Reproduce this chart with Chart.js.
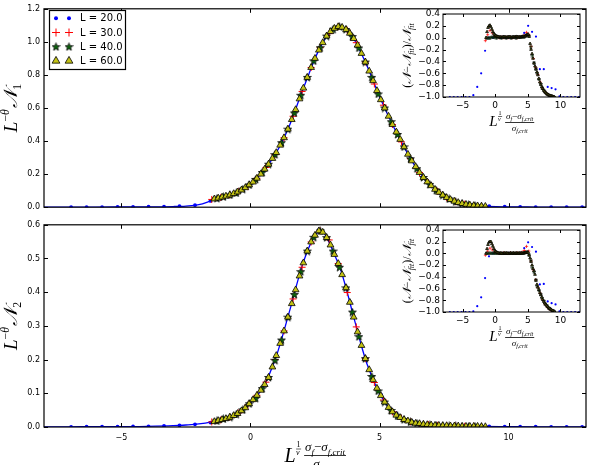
<!doctype html>
<html lang="en">
<head>
<meta charset="utf-8">
<title>scaling collapse - chartjs</title>
<script src="https://cdn.jsdelivr.net/npm/chart.js"></script>
<style>
    body{margin:0;background:#fff}
    #wrap{position:relative;width:591px;height:465px;overflow:hidden}
    #wrap canvas{position:absolute}
</style>
<script>
// ---- data ----
const xTicks = [-5, 0, 5, 10];
const y1Ticks = [0, 0.2, 0.4, 0.6, 0.8, 1.0, 1.2];
const y2Ticks = [0, 0.1, 0.2, 0.3, 0.4, 0.5, 0.6];
const resTicks = [-1.0, -0.8, -0.6, -0.4, -0.2, 0, 0.2, 0.4];
const seriesNames = ['L = 20.0', 'L = 30.0', 'L = 40.0', 'L = 60.0'];

// L = 20
const x20 = [-6.95,-6.35,-5.75,-5.15,-4.55,-3.95,-3.35,-2.75,-2.15,-1.55,
    -0.95,-0.35,0.25,0.85,1.45,2.05,2.65,3.25,3.85,4.45,
    5.05,5.65,6.25,6.85,7.45,8.05,8.65,9.25,9.85,10.45,
    11.05,11.65,12.25,12.85];
const n1_20 = [0.001,0.001,0.001,0.002,0.002,0.003,0.004,0.006,0.012,0.038,
    0.066,0.104,0.175,0.295,0.472,0.72,0.95,1.082,1.052,0.878,
    0.655,0.46,0.29,0.16,0.078,0.032,0.015,0.007,0.004,0.002,
    0.001,0.001,0.001,0.0005];
const n2_20 = [0.0005,0.001,0.001,0.001,0.002,0.002,0.003,0.005,0.008,0.013,
    0.025,0.047,0.094,0.178,0.33,0.49,0.585,0.515,0.372,0.205,
    0.097,0.04,0.017,0.008,0.005,0.003,0.002,0.002,0.001,0.001,
    0.001,0.0005,0.0005,0.0003];
const r1_20 = [-1.0,-1.0,-1.0,-1.0,-1.0,-1.0,-0.97,-0.83,-0.60,-0.22,
    0.0,0.0,0.01,0.0,0.01,0.0,0.01,0.0,0.01,0.08,
    0.2,0.1,0.02,-0.53,-0.53,-0.83,-0.85,-0.87,-0.99,-1.0,
    -1.0,-1.0,-1.0,-1.0];
const r2_20 = [-1.0,-1.0,-1.0,-1.0,-1.0,-1.0,-0.99,-0.90,-0.75,-0.42,
    -0.05,0.0,0.01,0.0,0.0,0.01,0.0,0.0,0.01,0.09,
    0.19,0.11,0.03,-0.53,-0.52,-0.82,-0.85,-0.87,-0.99,-1.0,
    -1.0,-1.0,-1.0,-1.0];

// L = 30
const x30 = [-1.5,-1.15,-0.8,-0.45,-0.1,0.25,0.6,0.95,1.3,1.65,
    2.0,2.35,2.7,3.05,3.4,3.75,4.1,4.45,4.8,5.15,
    5.5,5.85,6.2,6.55,6.9,7.25,7.6,7.95,8.3,8.65];
const n1_30 = [0.047,0.059,0.074,0.096,0.124,0.175,0.24,0.318,0.42,0.55,
    0.70,0.845,0.965,1.05,1.092,1.07,0.995,0.878,0.745,0.617,
    0.50,0.395,0.293,0.21,0.146,0.096,0.058,0.033,0.018,0.01];
const n2_30 = [0.015,0.021,0.029,0.042,0.065,0.094,0.133,0.20,0.285,0.38,
    0.474,0.549,0.582,0.555,0.485,0.399,0.297,0.203,0.132,0.080,
    0.045,0.026,0.015,0.010,0.007,0.005,0.004,0.003,0.002,0.002];
const r1_30 = [-0.05,0.05,0.12,0.08,0.03,0.01,0.0,0.01,0.0,0.01,
    0.0,0.01,0.0,0.01,0.0,0.01,0.02,0.04,0.09,0.05,
    -0.15,-0.35,-0.50,-0.62,-0.75,-0.85,-0.91,-0.95,-0.98,-0.99];
const r2_30 = [-0.03,0.04,0.09,0.06,0.02,0.01,0.0,0.0,0.01,0.0,
    0.0,0.01,0.0,0.0,0.01,0.0,0.02,0.05,0.12,0.04,
    -0.13,-0.28,-0.45,-0.58,-0.68,-0.79,-0.86,-0.91,-0.95,-0.98];

// L = 40
const x40 = [-1.3,-1.05,-0.8,-0.55,-0.3,-0.05,0.2,0.45,0.7,0.95,
    1.2,1.45,1.7,1.95,2.2,2.45,2.7,2.95,3.2,3.45,
    3.7,3.95,4.2,4.45,4.7,4.95,5.2,5.45,5.7,5.95,
    6.2,6.45,6.7,6.95,7.2,7.45,7.7,7.95,8.2,8.45,
    8.7,8.95];
const n1_40 = [0.053,0.063,0.074,0.086,0.109,0.135,0.168,0.21,0.26,0.318,
    0.39,0.472,0.57,0.677,0.785,0.885,0.965,1.035,1.076,1.092,
    1.075,1.032,0.963,0.878,0.785,0.685,0.60,0.517,0.44,0.365,
    0.293,0.233,0.18,0.138,0.102,0.073,0.05,0.033,0.022,0.015,
    0.01,0.006];
const n2_40 = [0.018,0.024,0.029,0.038,0.051,0.069,0.085,0.114,0.147,0.198,
    0.258,0.326,0.393,0.461,0.522,0.563,0.582,0.562,0.522,0.474,
    0.413,0.341,0.268,0.203,0.150,0.107,0.074,0.049,0.033,0.022,
    0.015,0.011,0.008,0.006,0.005,0.004,0.003,0.003,0.002,0.002,
    0.002,0.001];
const r1_40 = [0.0,0.0,0.0,0.01,0.005,0.01,0.0,0.01,0.005,0.0,
    0.01,0.005,0.0,0.01,0.005,0.0,0.01,0.005,0.0,0.01,
    0.005,0.01,0.015,0.02,0.03,0.05,0.03,-0.15,-0.30,-0.42,
    -0.52,-0.60,-0.70,-0.78,-0.84,-0.89,-0.92,-0.95,-0.965,-0.98,
    -0.99,-1.0];
const r2_40 = [0.0,0.0,0.005,0.0,0.005,0.0,0.0,0.005,0.0,0.0,
    0.005,0.0,0.0,0.005,0.0,0.0,0.005,0.0,0.0,0.005,
    0.0,0.0,0.01,0.01,0.02,0.02,-0.02,-0.12,-0.24,-0.31,
    -0.45,-0.56,-0.63,-0.70,-0.76,-0.81,-0.86,-0.89,-0.93,-0.955,
    -0.975,-0.99];

// L = 60
const x60 = [-1.4,-1.25,-1.1,-0.95,-0.8,-0.65,-0.5,-0.35,-0.2,-0.05,
    0.1,0.25,0.4,0.55,0.7,0.85,1.0,1.15,1.3,1.45,
    1.6,1.75,1.9,2.05,2.2,2.35,2.5,2.65,2.8,2.95,
    3.1,3.25,3.4,3.55,3.7,3.85,4.0,4.15,4.3,4.45,
    4.6,4.75,4.9,5.05,5.2,5.35,5.5,5.65,5.8,5.95,
    6.1,6.25,6.4,6.55,6.7,6.85,7.0,7.15,7.3,7.45,
    7.6,7.75,7.9,8.05,8.2,8.35,8.5,8.65,8.8,8.95,
    9.1];
const n1_60 = [0.050,0.055,0.061,0.067,0.074,0.082,0.092,0.104,0.118,0.135,
    0.152,0.175,0.200,0.230,0.260,0.295,0.330,0.375,0.420,0.472,
    0.530,0.590,0.655,0.720,0.785,0.845,0.900,0.950,0.995,1.035,
    1.062,1.082,1.092,1.088,1.075,1.052,1.020,0.980,0.930,0.878,
    0.823,0.765,0.705,0.650,0.600,0.550,0.500,0.455,0.410,0.365,
    0.320,0.280,0.245,0.210,0.180,0.153,0.130,0.108,0.090,0.073,
    0.058,0.046,0.036,0.028,0.022,0.017,0.013,0.010,0.008,0.006,
    0.005];
const n2_60 = [0.016,0.019,0.022,0.025,0.029,0.034,0.040,0.048,0.057,0.069,
    0.081,0.094,0.109,0.126,0.147,0.178,0.212,0.248,0.285,0.326,
    0.366,0.407,0.448,0.487,0.522,0.549,0.569,0.582,0.578,0.562,
    0.540,0.512,0.485,0.452,0.413,0.370,0.326,0.282,0.242,0.203,
    0.170,0.140,0.115,0.093,0.074,0.058,0.045,0.035,0.028,0.022,
    0.018,0.014,0.011,0.010,0.008,0.007,0.006,0.005,0.005,0.004,
    0.004,0.003,0.003,0.003,0.002,0.002,0.002,0.002,0.002,0.001,
    0.001];
const r1_60 = [0.0,0.10,0.17,0.20,0.21,0.18,0.14,0.10,0.07,0.05,
    0.035,0.025,0.02,0.015,0.01,0.012,0.008,0.01,0.015,0.012,
    0.01,0.008,0.01,0.012,0.015,0.01,0.008,0.01,0.012,0.01,
    0.015,0.02,0.015,0.01,0.012,0.01,0.015,0.02,0.025,0.02,
    0.03,0.04,0.05,0.06,0.02,-0.10,-0.20,-0.27,-0.35,-0.43,
    -0.48,-0.53,-0.58,-0.63,-0.69,-0.75,-0.79,-0.83,-0.86,-0.89,
    -0.91,-0.93,-0.945,-0.955,-0.965,-0.975,-0.98,-0.985,-0.99,-0.995,
    -1.0];
const r2_60 = [0.0,0.08,0.15,0.19,0.20,0.20,0.16,0.12,0.08,0.05,
    0.03,0.02,0.01,0.005,0.0,0.005,0.0,-0.005,0.0,0.005,
    0.0,0.005,0.0,-0.005,0.0,0.005,0.0,0.0,0.005,0.0,
    0.0,0.005,0.0,0.0,0.005,0.0,0.005,0.0,0.005,0.01,
    0.01,0.015,0.02,0.02,-0.03,-0.08,-0.14,-0.20,-0.26,-0.30,
    -0.36,-0.46,-0.53,-0.58,-0.62,-0.67,-0.71,-0.75,-0.79,-0.82,
    -0.85,-0.87,-0.89,-0.91,-0.93,-0.94,-0.955,-0.965,-0.975,-0.985,
    -0.99];

// fitted curve (blue line)
const fitX = [-8,-7,-6,-5,-4,-3,-2.5,-2,-1.5,-1,
    -0.5,0,0.5,1,1.5,2,2.25,2.5,2.75,3,
    3.25,3.5,3.75,4,4.5,5,5.5,6,6.5,7,
    7.5,8,8.5,9,10,11,12,13];
const fit1 = [0.0005,0.0008,0.001,0.0015,0.002,0.004,0.007,0.015,0.040,0.065,
    0.092,0.14,0.22,0.33,0.49,0.70,0.80,0.90,0.98,1.045,
    1.08,1.09,1.065,1.02,0.86,0.67,0.50,0.35,0.22,0.13,
    0.065,0.03,0.014,0.006,0.002,0.001,0.0005,0.0003];
const fit2 = [0.0003,0.0005,0.001,0.001,0.002,0.004,0.006,0.009,0.015,0.024,
    0.04,0.072,0.12,0.21,0.34,0.478,0.53,0.569,0.581,0.555,
    0.512,0.465,0.399,0.326,0.19,0.10,0.045,0.02,0.01,0.006,
    0.004,0.003,0.002,0.0015,0.001,0.0005,0.0004,0.0003];
</script>
</head>
<body>
<div id="wrap">
    <canvas id="main1" width="591" height="216" style="left:0;top:0;width:591px;height:216px"></canvas>
    <canvas id="main2" width="591" height="249" style="left:0;top:216px;width:591px;height:249px"></canvas>
    <canvas id="ins1" width="211" height="135" style="left:380px;top:0;width:211px;height:135px"></canvas>
    <canvas id="ins2" width="211" height="135" style="left:380px;top:216px;width:211px;height:135px"></canvas>
</div>
<script>
    Chart.defaults.font.family = '"DejaVu Sans", sans-serif';
    Chart.defaults.color = '#000';

    const BLUE = '#0000ff', RED = '#ff0000', GREEN = '#0a640a', OLIVE = '#c2c214';
    const SERIF = '"Liberation Serif", "DejaVu Serif", serif';

    // filled star with black edge, used as a point style image
    function makeStar(size, lw) {
        const c = document.createElement('canvas');
        c.width = c.height = size;
        const g = c.getContext('2d');
        const r = size / 2 - lw / 2, ri = r * 0.42, cx = size / 2, cy = size / 2 + r * 0.08;
        g.beginPath();
        for (let k = 0; k < 10; k++) {
            const a = -Math.PI / 2 + k * Math.PI / 5, rr = k % 2 ? ri : r;
            g.lineTo(cx + rr * Math.cos(a), cy + rr * Math.sin(a));
        }
        g.closePath();
        g.fillStyle = GREEN; g.fill();
        g.lineWidth = lw; g.strokeStyle = '#000'; g.stroke();
        return c;
    }
    const starBig = makeStar(9, 0.8);
    const starSmall = makeStar(4, 0.5);

    const pts = (xs, ys) => xs.map((x, i) => ({ x: x, y: ys[i] }));
    const fmt1 = v => (v < -1e-9 ? '\u2212' : '') + Math.abs(v).toFixed(1);
    const fmt0 = v => (v < 0 ? '\u2212' : '') + Math.abs(v).toFixed(0);

    // frame + inward ticks on all four sides (matplotlib look)
    const frame = {
        id: 'frame',
        beforeDraw(chart, args, o) {
            if (!o.bg) return;
            const a = chart.chartArea;
            chart.ctx.save();
            chart.ctx.fillStyle = '#fff';
            chart.ctx.fillRect(a.left, a.top, a.right - a.left, a.bottom - a.top);
            chart.ctx.restore();
        },
        afterDatasetsDraw(chart, args, o) {
            const { ctx, chartArea: a, scales: { x, y } } = chart;
            ctx.save();
            ctx.strokeStyle = '#000';
            ctx.lineWidth = 1;
            ctx.beginPath();
            x.ticks.forEach(t => {
                const p = Math.round(x.getPixelForValue(t.value)) + 0.5;
                ctx.moveTo(p, a.bottom); ctx.lineTo(p, a.bottom - o.len);
                ctx.moveTo(p, a.top); ctx.lineTo(p, a.top + o.len);
            });
            y.ticks.forEach(t => {
                const p = Math.round(y.getPixelForValue(t.value)) + 0.5;
                ctx.moveTo(a.left, p); ctx.lineTo(a.left + o.len, p);
                ctx.moveTo(a.right, p); ctx.lineTo(a.right - o.len, p);
            });
            ctx.stroke();
            ctx.lineWidth = o.lw;
            ctx.strokeRect(a.left, a.top, a.right - a.left, a.bottom - a.top);
            ctx.restore();
        }
    };

    // --- little math typesetting helpers ---
    function mfont(p) { return (p.it ? 'italic ' : '') + p.s + 'px ' + SERIF; }
    function runWidth(ctx, parts) {
        let w = 0;
        parts.forEach(p => { ctx.font = mfont(p); w += ctx.measureText(p.t).width; });
        return w;
    }
    function drawRun(ctx, parts, x, y) {
        parts.forEach(p => {
            ctx.font = mfont(p);
            ctx.fillText(p.t, x, y + (p.dy || 0));
            x += ctx.measureText(p.t).width;
        });
    }
    function drawRotated(ctx, parts, x, cy) {
        ctx.save();
        ctx.translate(x, cy);
        ctx.rotate(-Math.PI / 2);
        drawRun(ctx, parts, -runWidth(ctx, parts) / 2, 0);
        ctx.restore();
    }
    function yTitleMain(k, s) {
        return [{ t: 'L', s: s, it: 1 }, { t: '\u2212', s: s * 0.62, dy: -s * 0.42 }, { t: '\u03b8', s: s * 0.62, it: 1, dy: -s * 0.42 },
            { t: ' ', s: s * 0.3 }, { t: '\u{1D4A9}', s: s, it: 1 }, { t: k, s: s * 0.62, dy: s * 0.22 }];
    }
    function yTitleRes(s) {
        const sub = { t: 'fit', s: s * 0.66, it: 1, dy: s * 0.25 };
        return [{ t: '(', s: s }, { t: '\u{1D4A9}', s: s, it: 1 }, { t: '\u2212', s: s }, { t: '\u{1D4A9}', s: s, it: 1 }, sub,
            { t: ')', s: s }, { t: '/', s: s }, { t: '\u{1D4A9}', s: s, it: 1 }, sub];
    }
    // L^{1/nu} (sigma_f - sigma_f,crit)/sigma_f,crit ; g = geometry
    function drawXTitle(ctx, cx, g) {
        const sub = { s: g.sub, it: 1, dy: g.sub * 0.4 };
        const num = [{ t: '\u03c3', s: g.fs, it: 1 }, Object.assign({ t: 'f' }, sub), { t: '\u2212', s: g.fs },
            { t: '\u03c3', s: g.fs, it: 1 }, Object.assign({ t: 'f,crit' }, sub)];
        const den = [{ t: '\u03c3', s: g.fs, it: 1 }, Object.assign({ t: 'f,crit' }, sub)];
        ctx.font = mfont({ s: g.L, it: 1 });
        const wL = ctx.measureText('L').width;
        ctx.font = mfont({ s: g.sup });
        const wS = ctx.measureText('1').width + 1;
        const wN = runWidth(ctx, num), wD = runWidth(ctx, den), wF = Math.max(wN, wD) + 2;
        let x = cx - (wL + wS + 3 + wF) / 2;
        ctx.save();
        ctx.fillStyle = '#000'; ctx.strokeStyle = '#000';
        ctx.textBaseline = 'alphabetic';
        ctx.font = mfont({ s: g.L, it: 1 });
        ctx.fillText('L', x, g.yL);
        x += wL + 0.5;
        ctx.font = mfont({ s: g.sup });
        ctx.fillText('1', x + 0.5, g.ySup1);
        ctx.font = mfont({ s: g.sup, it: 1 });
        ctx.fillText('\u03bd', x, g.ySupNu);
        ctx.lineWidth = 0.6;
        ctx.beginPath(); ctx.moveTo(x, g.ySupBar); ctx.lineTo(x + wS, g.ySupBar); ctx.stroke();
        x += wS + 3;
        drawRun(ctx, num, x + (wF - wN) / 2, g.yNum);
        drawRun(ctx, den, x + (wF - wD) / 2, g.yDen);
        ctx.lineWidth = 0.8;
        ctx.beginPath(); ctx.moveTo(x, g.yBar); ctx.lineTo(x + wF, g.yBar); ctx.stroke();
        ctx.restore();
    }
    function labels(fn) {
        return { id: 'mathLabels', afterDraw(chart) { const c = chart.ctx; c.save(); c.fillStyle = '#000'; fn(c, chart.chartArea); c.restore(); } };
    }

    // legend with two markers per entry
    const legendRows = [
        { style: 'circle', r: 2, fill: BLUE, stroke: BLUE, bw: 0 },
        { style: 'cross', r: 4, fill: RED, stroke: RED, bw: 1 },
        { style: starBig, r: 4, fill: GREEN, stroke: '#000', bw: 0 },
        { style: 'triangle', r: 4.5, fill: OLIVE, stroke: '#000', bw: 0.8 }
    ];
    const legendBox = {
        id: 'legendBox',
        afterDraw(chart) {
            const ctx = chart.ctx;
            ctx.save();
            ctx.fillStyle = '#fff';
            ctx.fillRect(49.5, 10.5, 76, 59);
            ctx.strokeStyle = '#000'; ctx.lineWidth = 1.2;
            ctx.strokeRect(49.5, 10.5, 76, 59);
            legendRows.forEach((r, i) => {
                const y = 18.3 + i * 14.2;
                [56, 69].forEach(x => {
                    ctx.fillStyle = r.fill; ctx.strokeStyle = r.stroke; ctx.lineWidth = r.bw || 1;
                    Chart.helpers.drawPoint(ctx, { pointStyle: r.style, radius: r.r, rotation: 0, borderWidth: r.bw }, x, y);
                });
                ctx.fillStyle = '#000';
                ctx.font = '10px "DejaVu Sans"';
                ctx.textBaseline = 'middle';
                ctx.fillText(seriesNames[i], 80, y + 0.5);
            });
            ctx.restore();
        }
    };

    function datasets(sz, y20, y30, y40, y60, fit) {
        const sets = [
            { data: pts(x60, y60), pointStyle: 'triangle', pointRadius: sz.tri, backgroundColor: sz.triFill, borderColor: '#000', borderWidth: sz.triB, order: 0 },
            { data: pts(x40, y40), pointStyle: sz.star, pointRadius: 3, order: 1 },
            { data: pts(x30, y30), pointStyle: 'cross', pointRadius: sz.cross, borderColor: RED, borderWidth: sz.crossB, order: 2 },
            { data: pts(x20, y20), pointStyle: 'circle', pointRadius: sz.dot, backgroundColor: BLUE, borderColor: BLUE, borderWidth: 0, order: 3 }
        ];
        if (fit) sets.push({ data: pts(fitX, fit), showLine: true, pointRadius: 0, borderColor: BLUE, borderWidth: 1.3,
            cubicInterpolationMode: 'monotone', order: 4 });
        return sets;
    }

    function axis(o) {
        return {
            type: 'linear', min: o.min, max: o.max, display: o.show,
            grid: { display: false, drawTicks: false }, border: { display: false },
            afterBuildTicks: s => { s.ticks = o.ticks.map(v => ({ value: v })); },
            afterFit: s => { if (o.w) s.width = o.w; if (o.h) s.height = o.h; },
            ticks: { font: { size: o.fs }, color: '#000', padding: o.pad, maxRotation: 0, autoSkip: false, callback: o.fmt }
        };
    }

    function make(id, sets, pad, xs, ys, extra, fopt) {
        return new Chart(document.getElementById(id), {
            type: 'scatter',
            data: { datasets: sets },
            options: {
                responsive: false, animation: false, devicePixelRatio: 1, events: [],
                layout: { padding: pad },
                plugins: { legend: { display: false }, tooltip: { enabled: false }, frame: fopt },
                scales: { x: axis(xs), y: axis(ys) }
            },
            plugins: [frame].concat(extra)
        });
    }

    const bigSz = { tri: 3.9, triB: 0.8, triFill: OLIVE, star: starBig, cross: 3.5, crossB: 1, dot: 1.9 };
    const smallSz = { tri: 1.6, triB: 0.8, triFill: '#6b6b10', star: starSmall, cross: 1.6, crossB: 0.7, dot: 1.1 };

    // top main panel
    make('main1', datasets(bigSz, n1_20, n1_30, n1_40, n1_60, fit1),
        { left: 0, right: 3, top: 6, bottom: 5.5 },
        { min: -8, max: 13, show: false, ticks: xTicks, fmt: fmt0, fs: 8, pad: 6 },
        { min: 0, max: 1.2, show: true, ticks: y1Ticks, fmt: fmt1, fs: 8, pad: 4, w: 44 },
        [labels((c, a) => drawRotated(c, yTitleMain('1', 19), 17, (a.top + a.bottom) / 2)), legendBox],
        { len: 4, lw: 1.2 });

    // bottom main panel
    make('main2', datasets(bigSz, n2_20, n2_30, n2_40, n2_60, fit2),
        { left: 0, right: 3, top: 5, bottom: 0 },
        { min: -8, max: 13, show: true, ticks: xTicks, fmt: fmt0, fs: 8, pad: 6, h: 38 },
        { min: 0, max: 0.6, show: true, ticks: y2Ticks, fmt: fmt1, fs: 8, pad: 4, w: 44 },
        [labels((c, a) => {
            drawRotated(c, yTitleMain('2', 19), 17, (a.top + a.bottom) / 2);
            drawXTitle(c, (a.left + a.right) / 2, { L: 20, sup: 8, fs: 13, sub: 9,
                yL: 246, ySup1: 231, ySupBar: 233, ySupNu: 239, yNum: 235, yBar: 239.5, yDen: 252 });
        })],
        { len: 4, lw: 1.2 });

    // insets: relative residuals
    function inset(id, r20, r30, r40, r60, hx) {
        make(id, datasets(smallSz, r20, r30, r40, r60, null),
            { left: 0, right: 11, top: 14, bottom: 0 },
            { min: -8, max: 13, show: true, ticks: xTicks, fmt: fmt0, fs: 9, pad: 3, h: hx },
            { min: -1.0, max: 0.4, show: true, ticks: resTicks, fmt: fmt1, fs: 9, pad: 3, w: 63 },
            [labels((c, a) => {
                drawRotated(c, yTitleRes(12), 31, (a.top + a.bottom) / 2);
                const A = a.bottom;
                drawXTitle(c, (a.left + a.right) / 2, { L: 15, sup: 6, fs: 9, sub: 6,
                    yL: A + 29, ySup1: A + 18, ySupBar: A + 19.5, ySupNu: A + 24, yNum: A + 22, yBar: A + 25.5, yDen: A + 34 });
            })],
            { len: 3, lw: 1, bg: true });
    }
    inset('ins1', r1_20, r1_30, r1_40, r1_60, 38);
    inset('ins2', r2_20, r2_30, r2_40, r2_60, 39);
</script>
</body>
</html>
